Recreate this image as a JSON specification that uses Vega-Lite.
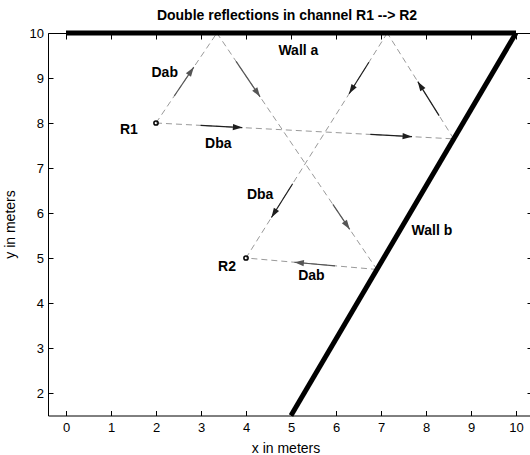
{
  "$schema": "https://vega.github.io/schema/vega-lite/v6.json",
  "width": 486,
  "height": 382.5,
  "autosize": {"type": "none"},
  "padding": {"left": 48, "top": 33, "right": 0, "bottom": 40},
  "title": {"text": "Double reflections in channel R1 --> R2", "fontSize": 14, "fontWeight": "bold", "font": "Liberation Sans", "color": "black", "anchor": "middle", "offset": 4, "dx": -4},
  "config": {
    "view": {"stroke": null},
    "axis": {"domainColor": "black", "tickColor": "black", "labelColor": "black", "titleColor": "black", "domainWidth": 1, "tickWidth": 1, "grid": false, "labelFont": "Liberation Sans", "titleFont": "Liberation Sans", "labelFontSize": 13, "titleFontSize": 14, "titleFontWeight": "normal", "tickSize": -5}
  },
  "datasets": {
    "walls": [
      {"wall": "a", "x": 0, "y": 10, "x2": 10, "y2": 10},
      {"wall": "b", "x": 5, "y": 1.5, "x2": 10, "y2": 10}
    ],
    "paths": [
      {"path": "Dab", "x": 2, "y": 8, "x2": 3.353, "y2": 10},
      {"path": "Dab", "x": 3.353, "y": 10, "x2": 6.909, "y2": 4.745},
      {"path": "Dab", "x": 6.909, "y": 4.745, "x2": 4, "y2": 5},
      {"path": "Dba", "x": 2, "y": 8, "x2": 8.616, "y2": 7.647},
      {"path": "Dba", "x": 8.616, "y": 7.647, "x2": 7.139, "y2": 10},
      {"path": "Dba", "x": 7.139, "y": 10, "x2": 4, "y2": 5}
    ],
    "arrows": [
      {"path": "Dab", "x": 2.406, "y": 8.6, "x2": 2.839, "y2": 9.24, "dir": 34.1},
      {"path": "Dab", "x": 3.78, "y": 9.369, "x2": 4.313, "y2": 8.581, "dir": 145.9},
      {"path": "Dab", "x": 5.931, "y": 6.19, "x2": 6.304, "y2": 5.638, "dir": 145.9},
      {"path": "Dab", "x": 5.978, "y": 4.827, "x2": 5.076, "y2": 4.906, "dir": 275.0},
      {"path": "Dba", "x": 2.992, "y": 7.947, "x2": 3.919, "y2": 7.898, "dir": 93.05},
      {"path": "Dba", "x": 6.764, "y": 7.746, "x2": 7.69, "y2": 7.696, "dir": 93.05},
      {"path": "Dba", "x": 8.291, "y": 8.165, "x2": 7.818, "y2": 8.918, "dir": 327.9},
      {"path": "Dba", "x": 6.731, "y": 9.35, "x2": 6.291, "y2": 8.65, "dir": 212.1},
      {"path": "Dba", "x": 5.036, "y": 6.65, "x2": 4.565, "y2": 5.9, "dir": 212.1}
    ],
    "receivers": [
      {"name": "R1", "x": 2, "y": 8},
      {"name": "R2", "x": 4, "y": 5}
    ],
    "labels": [
      {"text": "Wall a", "x": 4.72, "y": 9.61},
      {"text": "Wall b", "x": 7.68, "y": 5.61},
      {"text": "R1", "x": 1.2, "y": 7.84},
      {"text": "R2", "x": 3.38, "y": 4.81},
      {"text": "Dab", "x": 1.9, "y": 9.11},
      {"text": "Dba", "x": 3.09, "y": 7.54},
      {"text": "Dba", "x": 4.02, "y": 6.41},
      {"text": "Dab", "x": 5.16, "y": 4.59}
    ]
  },
  "layer": [
    {
      "data": {"name": "paths"},
      "mark": {"type": "rule", "color": "#9a9a9a", "strokeWidth": 1, "strokeDash": [6, 4]},
      "encoding": {
        "x": {"field": "x", "type": "quantitative", "scale": {"domain": [-0.4, 10.4], "nice": false, "zero": false},
          "axis": {"orient": "bottom", "values": [0,1,2,3,4,5,6,7,8,9,10], "title": "x in meters", "labelPadding": 11, "titleX": 237.5, "titleY": 36.5, "titleBaseline": "alphabetic", "titleAnchor": null}},
        "y": {"field": "y", "type": "quantitative", "scale": {"domain": [1.5, 10], "nice": false, "zero": false},
          "axis": {"orient": "left", "values": [2,3,4,5,6,7,8,9,10], "title": "y in meters", "labelPadding": 9.5, "titleX": -34, "titleY": 191, "titleBaseline": "alphabetic", "titleAngle": -90, "titleAlign": "center"}},
        "x2": {"field": "x2"},
        "y2": {"field": "y2"}
      }
    },
    {
      "data": {"name": "walls"},
      "mark": {"type": "rule", "color": "black", "strokeWidth": 5, "strokeCap": "butt"},
      "encoding": {
        "x": {"field": "x", "type": "quantitative", "scale": {"domain": [-0.4, 10.4], "nice": false, "zero": false},
          "axis": {"orient": "top", "values": [0,1,2,3,4,5,6,7,8,9,10], "labels": false, "title": null, "zindex": 1, "tickSize": -6}},
        "y": {"field": "y", "type": "quantitative", "scale": {"domain": [1.5, 10], "nice": false, "zero": false},
          "axis": {"orient": "right", "values": [2,3,4,5,6,7,8,9,10], "labels": false, "title": null, "zindex": 1, "tickSize": -7}},
        "x2": {"field": "x2"},
        "y2": {"field": "y2"}
      }
    },
    {
      "data": {"name": "arrows"},
      "mark": {"type": "rule", "strokeWidth": 1.2},
      "encoding": {
        "x": {"field": "x", "type": "quantitative", "axis": null},
        "y": {"field": "y", "type": "quantitative", "axis": null},
        "x2": {"field": "x2"},
        "y2": {"field": "y2"},
        "color": {"field": "path", "type": "nominal", "scale": {"domain": ["Dab", "Dba"], "range": ["#555555", "#1e1e1e"]}, "legend": null}
      }
    },
    {
      "data": {"name": "arrows"},
      "mark": {"type": "point", "shape": "M0,0 L-0.65,2 L0.65,2 Z", "filled": true, "size": 90, "opacity": 1, "strokeWidth": 0},
      "encoding": {
        "x": {"field": "x2", "type": "quantitative", "axis": null},
        "y": {"field": "y2", "type": "quantitative", "axis": null},
        "angle": {"field": "dir", "type": "quantitative", "scale": null},
        "color": {"field": "path", "type": "nominal", "scale": {"domain": ["Dab", "Dba"], "range": ["#555555", "#1e1e1e"]}, "legend": null}
      }
    },
    {
      "data": {"name": "receivers"},
      "mark": {"type": "point", "shape": "circle", "filled": false, "size": 18, "strokeWidth": 1.5, "color": "black", "opacity": 1},
      "encoding": {
        "x": {"field": "x", "type": "quantitative", "axis": null},
        "y": {"field": "y", "type": "quantitative", "axis": null}
      }
    },
    {
      "data": {"name": "labels"},
      "mark": {"type": "text", "align": "left", "baseline": "middle", "font": "Liberation Sans", "fontWeight": "bold", "fontSize": 14, "color": "black"},
      "encoding": {
        "x": {"field": "x", "type": "quantitative", "axis": null},
        "y": {"field": "y", "type": "quantitative", "axis": null},
        "text": {"field": "text", "type": "nominal"}
      }
    }
  ],
  "resolve": {"axis": {"x": "independent", "y": "independent"}}
}
